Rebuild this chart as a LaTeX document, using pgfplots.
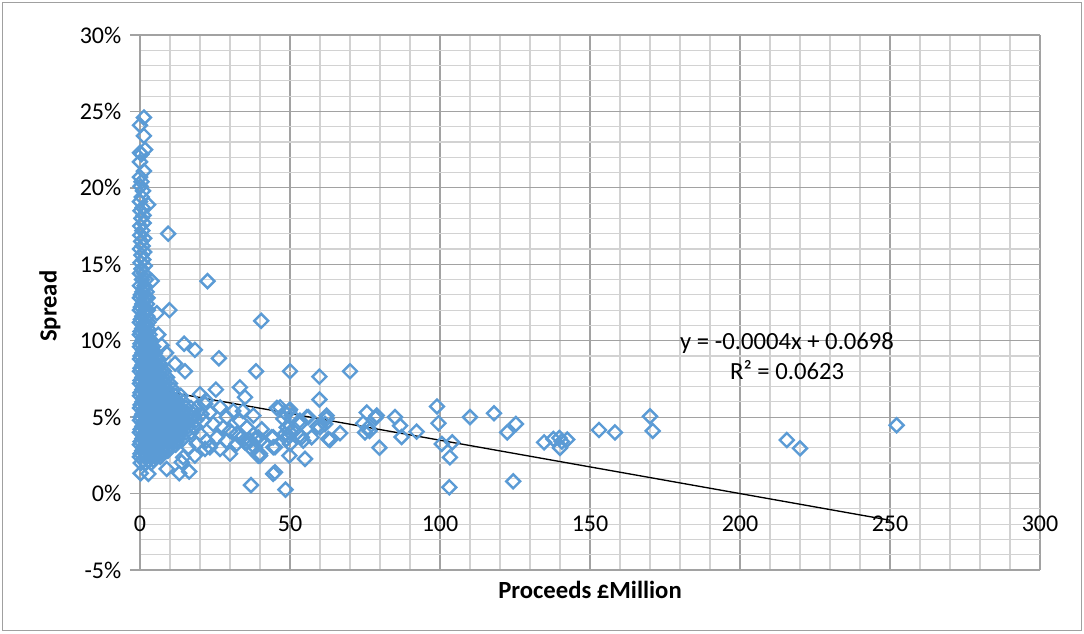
\documentclass[border=0pt]{standalone}
\usepackage{fontspec}
\setmainfont{Carlito}
\usepackage{pgfplots}
\pgfplotsset{compat=1.18}
\definecolor{pts}{HTML}{5B9BD5}
\definecolor{majg}{HTML}{A2A2A2}
\definecolor{ming}{HTML}{D2D2D2}
\definecolor{framec}{HTML}{A0A0A0}

\begin{document}
\begin{tikzpicture}
\begin{axis}[
  scale only axis, width=675pt, height=401.25pt,
  xmin=0, xmax=300, ymin=-5, ymax=30,
  axis x line=middle, axis y line=left,
  axis line style={-, draw=majg, line width=1pt},
  hide obscured x ticks=false, hide obscured y ticks=false,
  xtick={0,50,...,300}, ytick={-5,0,...,30},
  minor x tick num=4, minor y tick num=4,
  grid=both,
  major grid style={draw=majg, line width=0.85pt},
  minor grid style={draw=ming, line width=0.85pt},
  tick align=outside, major tick length=7.5pt, minor tick length=0pt,
  tick style={draw=majg, line width=1pt},
  xtick style={draw=none},
  /pgf/number format/assume math mode=true,
  yticklabel={\pgfmathprintnumber{\tick}\%},
  tick label style={font=\fontsize{18}{21}\selectfont},
  yticklabel style={xshift=-3pt},
  xticklabel style={yshift=-6pt},
  clip=false,
]
% dense core near zero proceeds
\addplot[only marks, mark=square, draw=pts, line width=1.8pt, mark size=3.7pt, mark options={rotate=45, line join=miter}] coordinates {
(0.3,2.0) (2,2.0) (3.7,2.0)
(0,2.4) (1.7,2.4) (3.4,2.4) (5.1,2.4) (6.8,2.4)
(0.8,2.8) (2.5,2.8) (4.2,2.8) (5.9,2.8) (7.6,2.8) (9.3,2.8)
(0,3.2) (1.7,3.2) (3.4,3.2) (5.1,3.2) (6.8,3.2) (8.5,3.2) (10.2,3.2) (11.9,3.2)
(0.8,3.6) (2.5,3.6) (4.2,3.6) (5.9,3.6) (7.6,3.6) (9.3,3.6) (11,3.6) (12.7,3.6) (14.4,3.6)
(0,4.0) (1.7,4.0) (3.4,4.0) (5.1,4.0) (6.8,4.0) (8.5,4.0) (10.2,4.0) (11.9,4.0) (13.6,4.0) (15.3,4.0) (17,4.0)
(0.8,4.4) (2.5,4.4) (4.2,4.4) (5.9,4.4) (7.6,4.4) (9.3,4.4) (11,4.4) (12.7,4.4) (14.4,4.4) (16.1,4.4) (17.8,4.4)
(0,4.8) (1.7,4.8) (3.4,4.8) (5.1,4.8) (6.8,4.8) (8.5,4.8) (10.2,4.8) (11.9,4.8) (13.6,4.8) (15.3,4.8) (17,4.8) (18.7,4.8)
(0.8,5.2) (2.5,5.2) (4.2,5.2) (5.9,5.2) (7.6,5.2) (9.3,5.2) (11,5.2) (12.7,5.2) (14.4,5.2) (16.1,5.2) (17.8,5.2)
(0,5.6) (1.7,5.6) (3.4,5.6) (5.1,5.6) (6.8,5.6) (8.5,5.6) (10.2,5.6) (11.9,5.6) (13.6,5.6) (15.3,5.6) (17,5.6)
(0.8,6.0) (2.5,6.0) (4.2,6.0) (5.9,6.0) (7.6,6.0) (9.3,6.0) (11,6.0) (12.7,6.0) (14.4,6.0)
(0,6.4) (1.7,6.4) (3.4,6.4) (5.1,6.4) (6.8,6.4) (8.5,6.4) (10.2,6.4) (11.9,6.4) (13.6,6.4)
(0.8,6.8) (2.5,6.8) (4.2,6.8) (5.9,6.8) (7.6,6.8) (9.3,6.8) (11,6.8)
(0,7.2) (1.7,7.2) (3.4,7.2) (5.1,7.2) (6.8,7.2) (8.5,7.2) (10,7.2)
(0.8,7.6) (2.5,7.6) (4.2,7.6) (5.9,7.6) (7.6,7.6) (9,7.6)
(0,8.0) (1.7,8.0) (3.4,8.0) (5.1,8.0) (6.8,8.0) (8,8.0)
(0.8,8.4) (2.5,8.4) (4.2,8.4) (5.9,8.4) (7,8.4)
(0,8.8) (1.7,8.8) (3.4,8.8) (5.1,8.8) (6,8.8)
(0.8,9.2) (2.5,9.2) (4.2,9.2) (5,9.2)
(0,9.6) (1.7,9.6) (3.4,9.6) (4.4,9.6)
(0.8,10.0) (2.5,10.0) (3.8,10.0)
(0,10.4) (1.7,10.4) (3.2,10.4)
(0.8,10.8) (2.5,10.8)
(0,11.2) (1.7,11.2) (2.8,11.2)
(0.8,11.6) (2.4,11.6)
(0,12.0) (1.7,12.0) (2.6,12.0)
(0.8,12.4) (2.3,12.4)
(0,12.8) (1.6,12.8) (2.5,12.8)
(0.8,13.2) (2.2,13.2)
(0,13.6) (1.5,13.6)
(0.7,14.0) (2.0,14.0)
(0,14.4) (1.3,14.4) (0.5,14.7) (1.6,14.9)
(0.2,15.1) (1.1,15.3) (0.5,15.6) (1.4,15.8) (0,16.0) (0.9,16.2) (0.4,16.5)
(1.4,16.7) (0.1,16.9) (0.8,17.2) (0.1,17.5) (1.2,17.7) (0.5,18.0) (1.2,18.2) (0.2,18.5)
(0.9,18.7) (2.7,18.9) (0,19.1) (0.6,19.4) (1,19.8) (0.2,20.1) (0.5,20.4) (0,20.7) (1.3,21.1)
(0,21.7) (0.5,22.2) (1.7,22.5) (0,22.3) (1.3,23.4) (0,24.1) (1.3,24.6)
};
% second layer of the core
\addplot[only marks, mark=square, draw=pts, line width=1.8pt, mark size=3.7pt, mark options={rotate=45, line join=miter}] coordinates {
(1,2.2) (2.7,2.2) (4.4,2.2)
(0.2,2.6) (1.9,2.6) (3.6,2.6) (5.3,2.6) (7,2.6)
(1,3.0) (2.7,3.0) (4.4,3.0) (6.1,3.0) (7.8,3.0) (9.5,3.0)
(0.2,3.4) (1.9,3.4) (3.6,3.4) (5.3,3.4) (7,3.4) (8.7,3.4) (10.4,3.4) (12.1,3.4)
(1,3.8) (2.7,3.8) (4.4,3.8) (6.1,3.8) (7.8,3.8) (9.5,3.8) (11.2,3.8) (12.9,3.8)
(0.2,4.2) (1.9,4.2) (3.6,4.2) (5.3,4.2) (7,4.2) (8.7,4.2) (10.4,4.2) (12.1,4.2) (13.8,4.2)
(1,4.6) (2.7,4.6) (4.4,4.6) (6.1,4.6) (7.8,4.6) (9.5,4.6) (11.2,4.6) (12.9,4.6) (14.6,4.6)
(0.2,5.0) (1.9,5.0) (3.6,5.0) (5.3,5.0) (7,5.0) (8.7,5.0) (10.4,5.0) (12.1,5.0) (13.8,5.0) (15.5,5.0)
(1,5.4) (2.7,5.4) (4.4,5.4) (6.1,5.4) (7.8,5.4) (9.5,5.4) (11.2,5.4) (12.9,5.4) (14.6,5.4)
(0.2,5.8) (1.9,5.8) (3.6,5.8) (5.3,5.8) (7,5.8) (8.7,5.8) (10.4,5.8) (12.1,5.8)
(1,6.2) (2.7,6.2) (4.4,6.2) (6.1,6.2) (7.8,6.2) (9.5,6.2) (11.2,6.2)
(0.2,6.6) (1.9,6.6) (3.6,6.6) (5.3,6.6) (7,6.6) (8.7,6.6)
(1,7.0) (2.7,7.0) (4.4,7.0) (6.1,7.0) (7.8,7.0)
(0.2,7.4) (1.9,7.4) (3.6,7.4) (5.3,7.4) (7,7.4)
(1,7.8) (2.7,7.8) (4.4,7.8) (6.1,7.8)
(0.2,8.2) (1.9,8.2) (3.6,8.2) (5.3,8.2)
(1,8.6) (2.7,8.6) (4.4,8.6)
(0.2,9.0) (1.9,9.0) (3.4,9.0)
(1,9.4) (2.7,9.4) (0.2,9.8) (1.9,9.8) (1,10.2) (2.4,10.2)
(0.2,10.6) (1.7,10.6) (1,11.0) (2.2,11.0) (0.3,11.4) (1.2,11.8)
(0.3,12.2) (1.2,12.6) (0.3,13.0) (1.2,13.4)
};
% scattered deals
\addplot[only marks, mark=square, draw=pts, line width=1.8pt, mark size=3.7pt, mark options={rotate=45, line join=miter}] coordinates {
(22.5,13.9) (9.4,17.0) (9.8,12.0) (5.6,11.8) (3.9,13.9) (14.7,9.8) (18.3,9.4) (8.7,9.2)
(7.2,9.7) (6.1,10.4) (26.3,8.85) (15,8.0) (11.7,8.5) (25.3,6.8) (20,6.5) (18.9,5.6)
(21.7,5.86) (23.3,5.3) (26.7,5.64) (28.9,5.0) (31.1,5.4) (24.4,4.55) (27.8,4.33)
(30,4.1) (32.2,3.9) (25.6,3.68) (22.2,3.46) (28.9,3.46) (32.2,3.25) (23.3,3.03)
(18.9,3.25) (16.1,3.03) (20,3.9) (18.3,4.33) (21.1,4.77) (22,6.1) (20.5,5.2)
(0.2,1.33) (2.8,1.29) (8.9,1.61) (13.1,1.33) (16.4,1.44) (13.9,2.05) (14.4,2.37)
(18.3,2.48) (21.7,2.92) (26.7,2.92) (30,2.6)
(33.3,6.95) (35,6.3) (34.3,5.4) (37.8,5.1) (33.3,4.77) (35.6,4.33) (40.6,4.2)
(33.9,3.68) (36.7,3.46) (39.4,3.68) (38.3,3.03) (40,2.48) (43.9,3.68) (45,3.03)
(35,3.35) (40,3.46) (44.4,3.68) (36.7,3.03) (38.3,3.57) (35.6,3.35) (39.4,2.48)
(38.7,8.0) (40.4,11.3) (45.6,5.6) (46.7,5.64) (48.3,5.3) (47.8,4.88) (48.3,3.9)
(48.9,3.57) (50,3.25) (49.8,5.42) (50.6,5.1) (50,5.5) (48.9,4.33) (50,4.0) (49.4,3.8)
(53.3,3.8) (54.4,3.46) (53.3,4.77) (53.3,4.55) (53.9,3.68) (56.1,5.0) (57.2,3.68)
(55.6,5.0) (59.1,4.38) (60,4.33) (62.2,5.1) (62.8,3.57) (62.2,4.9) (61.7,4.55)
(66.7,3.95) (63.3,3.5) (55,2.27) (49.8,2.48) (44.4,3.03) (45,1.39) (44.4,1.29)
(48.5,0.26) (37,0.55) (40,2.6) (50,8.0) (59.8,7.65) (70,8.0) (59.8,6.15)
(75.6,5.3) (78.9,5.1) (78.5,4.95) (74.4,4.6) (75,4.0) (76,4.3) (76.5,4.1) (79.8,3.0)
(85,5.0) (86.7,4.44) (87.2,3.7) (92.2,4.05)
(99,5.7) (99.5,4.6) (100.6,3.25) (104.1,3.35) (103.3,2.37) (103.1,0.41)
(110,5.0) (118,5.25) (122.4,4.0) (125.3,4.55) (124.4,0.8)
(134.7,3.35) (137.8,3.57) (139.8,3.64) (140,2.99) (140.6,3.4) (142.4,3.53)
(153,4.16) (158.3,4.0) (170,5.05) (170.9,4.1) (215.6,3.5) (220,2.96) (252.2,4.47)
};
% linear trend
\addplot[black, line width=1pt, no marks] coordinates {(0,6.98) (250,-1.745)};
\node[font=\fontsize{18.5}{22.5}\selectfont, align=center] at (axis cs:215.7,9.0) {y = -0.0004x + 0.0698\\R² = 0.0623};
\node[font=\bfseries\fontsize{18.5}{22}\selectfont, rotate=90] at ([xshift=-67.5pt]rel axis cs:0,0.493) {Spread};
\node[font=\bfseries\fontsize{18.5}{22}\selectfont] at ([yshift=-15pt]rel axis cs:0.5,0) {Proceeds £Million};
\end{axis}
\draw[framec, line width=0.75pt] ([shift={(-102.75pt,-45.75pt)}]current axis.south west) rectangle ([shift={(30.75pt,24pt)}]current axis.north east);
\pgfresetboundingbox
\path[use as bounding box] ([shift={(-105pt,-48pt)}]current axis.south west) rectangle ([shift={(33pt,26.25pt)}]current axis.north east);
\end{tikzpicture}
\end{document}
